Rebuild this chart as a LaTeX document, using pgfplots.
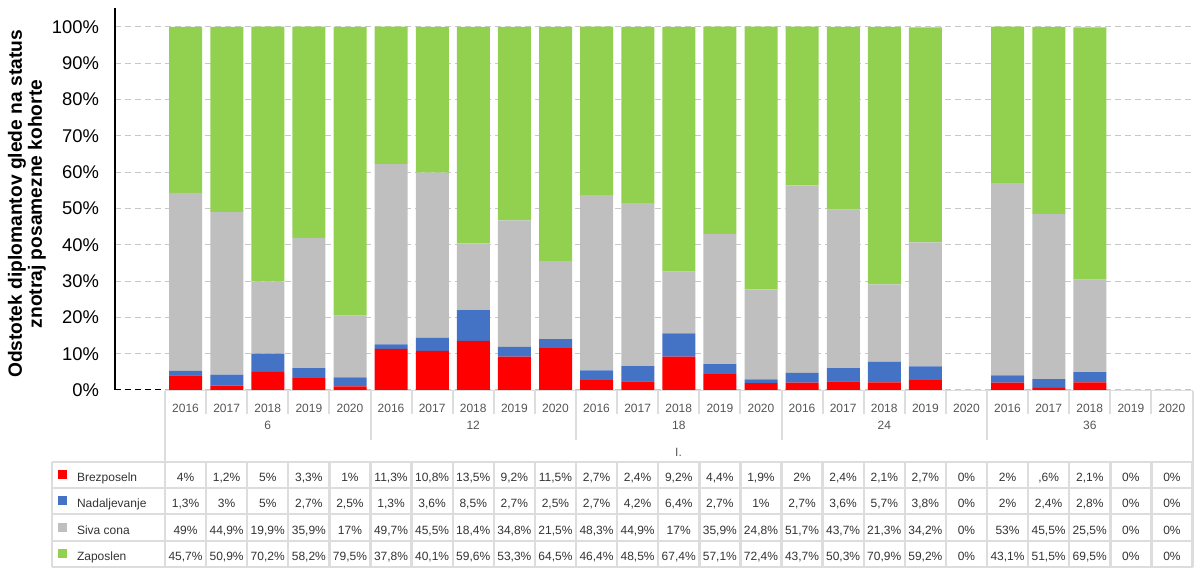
\documentclass[border=0pt]{standalone}
\usepackage{fontspec}
\setmainfont{Liberation Sans}
\usepackage{pgfplots}
\usepackage{pgfplotstable}
\pgfplotsset{compat=1.18}

\definecolor{brez}{RGB}{255,0,0}
\definecolor{nad}{RGB}{68,114,196}
\definecolor{siva}{RGB}{191,191,191}
\definecolor{zap}{RGB}{146,208,80}
\definecolor{cellline}{RGB}{221,221,221}
\definecolor{gridc}{RGB}{200,200,200}
\definecolor{txt}{RGB}{51,51,51}
\definecolor{hdr}{RGB}{85,85,85}

% x = category index (kohorta 6,12,18,24,36 x leto 2016..2020)
\pgfplotstableread{
x brez nad siva zap
0  4    1.3 49   45.7
1  1.2  3   44.9 50.9
2  5    5   19.9 70.2
3  3.3  2.7 35.9 58.2
4  1    2.5 17   79.5
5  11.3 1.3 49.7 37.8
6  10.8 3.6 45.5 40.1
7  13.5 8.5 18.4 59.6
8  9.2  2.7 34.8 53.3
9  11.5 2.5 21.5 64.5
10 2.7  2.7 48.3 46.4
11 2.4  4.2 44.9 48.5
12 9.2  6.4 17   67.4
13 4.4  2.7 35.9 57.1
14 1.9  1   24.8 72.4
15 2    2.7 51.7 43.7
16 2.4  3.6 43.7 50.3
17 2.1  5.7 21.3 70.9
18 2.7  3.8 34.2 59.2
19 0    0   0    0
20 2    2   53   43.1
21 0.6  2.4 45.5 51.5
22 2.1  2.8 25.5 69.5
23 0    0   0    0
24 0    0   0    0
}\data

\begin{document}
\begin{tikzpicture}
\begin{axis}[
  name=ax,
  x=20.55pt, y=1.815pt,
  xmin=-1.72, xmax=24.5, ymin=0, ymax=105.2,
  ybar stacked, bar width=16.5pt,
  axis x line=none,
  axis y line=left,
  y axis line style={-, black, line width=0.75pt},
  ytick={0,10,...,100},
  yticklabels={0\%,10\%,20\%,30\%,40\%,50\%,60\%,70\%,80\%,90\%,100\%},
  major tick length=0pt,
  yticklabel style={font=\fontsize{9.2}{10}\selectfont, anchor=east, xshift=-4.5pt},
  ymajorgrids,
  grid style={gridc, dash pattern=on 3pt off 2pt, line width=0.5pt},
  ylabel={Odstotek diplomantov glede na status\\znotraj posamezne kohorte},
  ylabel style={font=\fontsize{9.6}{10}\selectfont\bfseries, align=center,
    at={(axis description cs:-0.0817,0.487)}, anchor=center},
]
\addplot[fill=brez, draw=none] table[x=x, y=brez] {\data};
\addplot[fill=nad, draw=none] table[x=x, y=nad] {\data};
\addplot[fill=siva, draw=none] table[x=x, y=siva] {\data};
\addplot[fill=zap, draw=none] table[x=x, y=zap] {\data};
\end{axis}

% table below the plot, in pixel units of the reference
\begin{scope}[shift={(ax.south west)}, shift={(-57.5pt,195pt)}, x=0.5pt, y=-0.5pt]
\pgfkeys{/pgf/number format/.cd, fixed, precision=1, use comma, skip 0., assume math mode=true}
\path (0,0) rectangle (1196,567);
\draw[black, dash pattern=on 3pt off 2pt, line width=0.5pt] (115,390) -- (165,390);
% header
\draw[cellline, line width=0.5pt] (165,391) -- (1192.5,391);
\foreach \k in {1,...,24} \draw[cellline, line width=1pt] ({165+41.1*\k},391) -- ({165+41.1*\k},414);
\foreach \k in {5,10,15,20} \draw[cellline, line width=1pt] ({165+41.1*\k},391) -- ({165+41.1*\k},440);
\draw[cellline, line width=1pt] (165,391) -- (165,567);
\draw[cellline, line width=1pt] (1192.5,391) -- (1192.5,462);
\foreach \i in {0,...,24} {
  \pgfmathtruncatemacro\yr{2016+mod(\i,5)}
  \node[hdr, font=\fontsize{6}{7}\selectfont] at ({165+41.1*(\i+0.5)},408) {\yr};
}
\foreach \g [count=\j from 0] in {6,12,18,24,36}
  \node[hdr, font=\fontsize{6}{7}\selectfont] at ({165+41.1*(5*\j+2.5)},425) {\g};
\node[hdr, font=\fontsize{6}{7}\selectfont] at (678.5,452) {I.};
% data table
\foreach \yy in {462,488,514,541,567} \draw[cellline, line width=1.2pt] (52,\yy) -- (1192.5,\yy);
\foreach \k in {0,...,25} \draw[cellline, line width=1.2pt] ({165+41.1*\k},462) -- ({165+41.1*\k},567);
\draw[cellline, line width=1.2pt] (52,462) -- (52,567);
\foreach \lab/\col/\yy in {Brezposeln/brez/475, Nadaljevanje/nad/501, Siva cona/siva/527.5, Zaposlen/zap/554} {
  \fill[\col] (58,\yy-4.5) rectangle (67,\yy+4.5);
  \node[anchor=west, txt, font=\fontsize{6}{7}\selectfont, text height=1.5ex, text depth=.25ex] at (70,\yy) {\lab};
}
\foreach \col/\yy in {brez/475, nad/501, siva/527.5, zap/554} {
  \foreach \i in {0,...,24} {
    \pgfplotstablegetelem{\i}{\col}\of\data
    \node[txt, font=\fontsize{6}{7}\selectfont, text height=1.5ex, text depth=.25ex] at ({165+41.1*(\i+0.5)},\yy) {\pgfmathprintnumber{\pgfplotsretval}\%};
  }
}
\end{scope}
\end{tikzpicture}
\end{document}
